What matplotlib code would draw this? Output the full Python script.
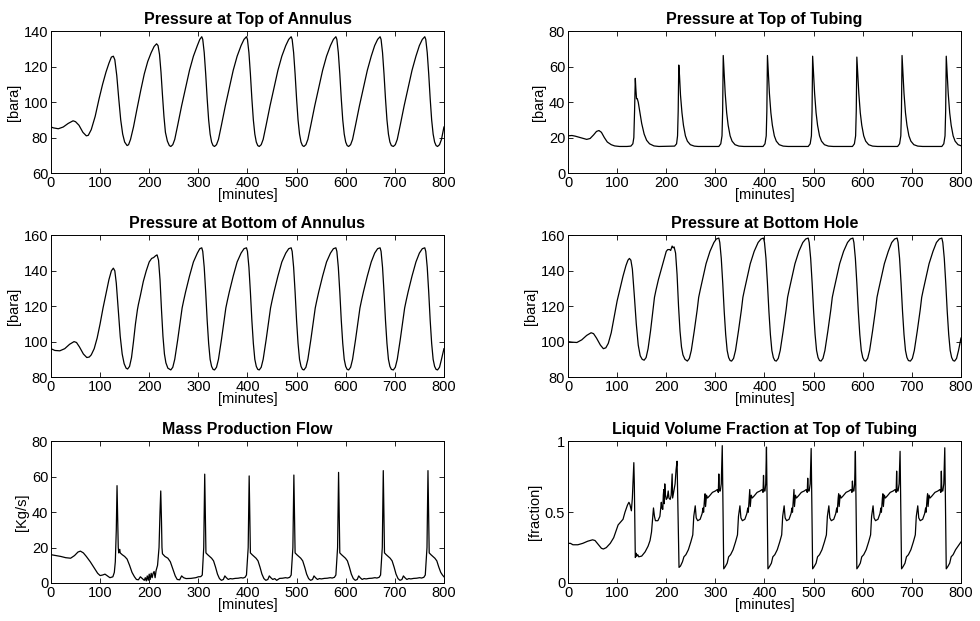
"""Gas-lift well casing-heading oscillations: six simulated signals vs time."""

import matplotlib

matplotlib.use("Agg")
import matplotlib.pyplot as plt

plt.rcParams["font.family"] = ["Liberation Sans", "DejaVu Sans"]

# --- data (minutes, value) --------------------------------------------------

annulus_top = [
    (0, 86), (5, 85.5), (15, 85), (25, 86), (35, 88), (45, 89.5), (50, 89),
    (57, 87), (65, 83), (72, 81), (76, 81.3), (82, 84.5), (90, 92), (98, 102),
    (105, 110), (112, 117), (118, 122), (123, 125.5), (127, 126), (130, 124),
    (134, 115), (138, 102), (142, 90), (146, 82), (150, 77.5), (155, 75.5),
    (158, 76), (162, 79), (168, 86), (175, 96), (183, 107), (190, 116),
    (197, 123), (204, 128), (210, 131.5), (215, 133), (218, 132), (221, 127),
    (224, 117), (227, 104), (230, 92), (233, 83), (237, 78), (241, 75.5),
    (244, 75),
    (248, 76), (252, 79), (258, 87), (266, 98), (274, 108), (282, 118),
    (290, 126), (298, 132), (303, 135.5), (307, 137), (309, 135.5), (312, 128),
    (315, 116), (318, 102), (321, 90), (324, 82), (327, 77.5), (330, 75.5),
    (333, 75),
    (337, 76), (341, 79), (347, 87), (355, 98), (363, 108), (371, 118),
    (379, 126), (387, 132), (393, 135.5), (398, 137), (400, 135.5), (403, 128),
    (406, 116), (409, 102), (412, 90), (415, 82), (418, 77.5), (421, 75.5),
    (424, 75),
    (428, 76), (432, 79), (438, 87), (446, 98), (454, 108), (462, 118),
    (470, 126), (478, 132), (484, 135.5), (489, 137), (491, 135.5), (494, 128),
    (497, 116), (500, 102), (503, 90), (506, 82), (509, 77.5), (512, 75.5),
    (515, 75),
    (519, 76), (523, 79), (529, 87), (537, 98), (545, 108), (553, 118),
    (561, 126), (569, 132), (575, 135.5), (580, 137), (582, 135.5), (585, 128),
    (588, 116), (591, 102), (594, 90), (597, 82), (600, 77.5), (603, 75.5),
    (606, 75),
    (610, 76), (614, 79), (620, 87), (628, 98), (636, 108), (644, 118),
    (652, 126), (659, 132), (665, 135.5), (670, 137), (672, 135.5), (675, 128),
    (678, 116), (681, 102), (684, 90), (687, 82), (690, 77.5), (693, 75.5),
    (697, 75),
    (701, 76), (705, 79), (711, 87), (719, 98), (727, 108), (735, 118),
    (743, 126), (750, 132), (756, 135.5), (761, 137), (763, 135.5), (766, 128),
    (769, 116), (772, 102), (775, 90), (778, 82), (781, 77.5), (784, 75.5),
    (787, 75), (791, 76), (795, 79), (800, 86),
]

tubing_top = [
    (0, 21), (8, 21.2), (15, 20.8), (25, 20), (38, 19), (45, 19.5),
    (52, 21.5), (58, 23.5), (63, 24), (68, 23), (74, 20), (80, 17.5),
    (88, 16), (95, 15.3), (105, 15), (120, 15), (128, 15.2), (132, 16.5),
    (134, 20), (135.5, 35), (137, 53.5), (138, 48), (139.5, 42), (141, 42),
    (143, 40), (146, 35), (150, 28), (155, 22), (160, 18.5), (166, 16.5),
    (175, 15.3), (185, 15),
    (217, 15.2), (221, 16.5), (223, 21), (224.3, 35), (225.5, 61), (227, 55),
    (229, 44), (232, 34), (235, 27), (239, 21), (243, 18), (249, 16),
    (257, 15.2), (265, 15),
    (307, 15), (311, 16.5), (313.5, 21), (314.8, 35), (316, 66.4), (317.5, 58),
    (320, 45), (323, 34), (326, 27), (330, 21), (334, 18), (340, 16),
    (348, 15.2), (358, 15),
    (397, 15), (401, 16.5), (403.5, 21), (404.8, 35), (406, 66.4), (407.5, 58),
    (410, 45), (413, 34), (416, 27), (420, 21), (424, 18), (430, 16),
    (438, 15.2), (448, 15),
    (489, 15), (493, 16.5), (495.5, 21), (496.8, 35), (498, 66), (499.5, 58),
    (502, 45), (505, 34), (508, 27), (512, 21), (516, 18), (522, 16),
    (530, 15.2), (540, 15),
    (579, 15), (583, 16.5), (585.5, 21), (586.8, 35), (588, 65.5), (589.5, 58),
    (592, 45), (595, 34), (598, 27), (602, 21), (606, 18), (612, 16),
    (620, 15.2), (630, 15),
    (671, 15), (675, 16.5), (677.5, 21), (678.8, 35), (680, 66.4), (681.5, 58),
    (684, 45), (687, 34), (690, 27), (694, 21), (698, 18), (704, 16),
    (712, 15.2), (722, 15),
    (761, 15), (765, 16.5), (767.5, 21), (768.8, 35), (770, 66), (771.5, 58),
    (774, 45), (777, 34), (780, 27), (784, 21), (788, 18), (794, 16),
    (800, 15.4),
]

annulus_bottom = [
    (0, 96), (8, 95), (18, 94.8), (28, 96), (38, 98.5), (47, 100), (52, 99.5),
    (58, 97), (66, 93), (73, 91), (78, 91.3), (82, 92.5), (88, 96), (94, 102),
    (100, 110), (106, 119), (112, 127), (118, 135), (123, 140), (127, 141.5),
    (130, 140), (133, 133), (137, 118), (141, 103), (145, 93), (149, 87.5),
    (153, 85), (156, 84.5), (160, 86), (164, 91), (168, 100), (172, 110),
    (176, 118), (178, 121), (182, 126), (188, 134), (194, 140), (200, 145),
    (205, 147), (209, 147.5), (213, 148.5), (216, 149), (219, 146), (222, 135),
    (225, 118), (228, 103), (231, 93), (234, 88), (238, 85), (244, 84),
    (248, 85.5), (252, 90), (258, 101), (264, 113), (267, 119), (270, 123),
    (274, 128), (282, 137), (290, 145), (298, 150), (303, 152.5), (307, 153),
    (309, 151), (312, 142), (315, 128), (318, 112), (321, 99), (324, 90),
    (327, 86), (330, 84.3), (333, 84),
    (337, 85.5), (341, 90), (347, 101), (353, 113), (356, 119), (359, 123),
    (363, 128), (371, 137), (379, 145), (387, 150), (393, 152.5), (398, 153),
    (400, 151), (403, 142), (406, 128), (409, 112), (412, 99), (415, 90),
    (418, 86), (421, 84.3), (424, 84),
    (428, 85.5), (432, 90), (438, 101), (444, 113), (447, 119), (450, 123),
    (454, 128), (462, 137), (470, 145), (478, 150), (484, 152.5), (489, 153),
    (491, 151), (494, 142), (497, 128), (500, 112), (503, 99), (506, 90),
    (509, 86), (512, 84.3), (515, 84),
    (519, 85.5), (523, 90), (529, 101), (535, 113), (538, 119), (541, 123),
    (545, 128), (553, 137), (561, 145), (569, 150), (575, 152.5), (580, 153),
    (582, 151), (585, 142), (588, 128), (591, 112), (594, 99), (597, 90),
    (600, 86), (603, 84.3), (606, 84),
    (610, 85.5), (614, 90), (620, 101), (626, 113), (629, 119), (632, 123),
    (636, 128), (644, 137), (652, 145), (659, 150), (665, 152.5), (670, 153),
    (672, 151), (675, 142), (678, 128), (681, 112), (684, 99), (687, 90),
    (690, 86), (693, 84.3), (697, 84),
    (701, 85.5), (705, 90), (711, 101), (717, 113), (720, 119), (723, 123),
    (727, 128), (735, 137), (743, 145), (750, 150), (756, 152.5), (761, 153),
    (763, 151), (766, 142), (769, 128), (772, 112), (775, 99), (778, 90),
    (781, 86), (784, 84.3), (787, 84), (791, 85.5), (795, 90), (800, 96),
]

bottom_hole = [
    (0, 100), (8, 99.7), (18, 99.5), (28, 101), (38, 103.5), (47, 105),
    (52, 104.5), (58, 102), (66, 98), (72, 96), (77, 96.5), (82, 99),
    (88, 105), (94, 114), (100, 123), (106, 130), (112, 137), (118, 143),
    (122, 146), (125, 147), (128, 146), (131, 141), (135, 126), (139, 110),
    (143, 98), (147, 92), (151, 90), (155, 89.5), (159, 91), (163, 96),
    (168, 106), (173, 118), (176, 125), (179, 129), (184, 135), (190, 141),
    (196, 147), (200, 151), (203, 152), (207, 152), (209, 151.5), (212, 154),
    (214, 153), (216, 153.5), (219, 150), (222, 138), (225, 120), (228, 106),
    (231, 97), (234, 92.5), (238, 90), (243, 89),
    (247, 90.5), (251, 95), (257, 106), (263, 118), (266, 125), (269, 129),
    (273, 134), (281, 144), (289, 151), (297, 156), (302, 158), (307, 158.5),
    (309, 156), (312, 147), (315, 133), (318, 117), (321, 104), (324, 95),
    (327, 91), (330, 89.3), (333, 89),
    (337, 90.5), (341, 95), (347, 106), (353, 118), (356, 125), (359, 129),
    (363, 134), (371, 144), (379, 151), (387, 156), (393, 158), (398, 158.5),
    (400, 156), (403, 147), (406, 133), (409, 117), (412, 104), (415, 95),
    (418, 91), (421, 89.3), (424, 89),
    (428, 90.5), (432, 95), (438, 106), (444, 118), (447, 125), (450, 129),
    (454, 134), (462, 144), (470, 151), (478, 156), (484, 158), (489, 158.5),
    (491, 156), (494, 147), (497, 133), (500, 117), (503, 104), (506, 95),
    (509, 91), (512, 89.3), (515, 89),
    (519, 90.5), (523, 95), (529, 106), (535, 118), (538, 125), (541, 129),
    (545, 134), (553, 144), (561, 151), (569, 156), (575, 158), (580, 158.5),
    (582, 156), (585, 147), (588, 133), (591, 117), (594, 104), (597, 95),
    (600, 91), (603, 89.3), (606, 89),
    (610, 90.5), (614, 95), (620, 106), (626, 118), (629, 125), (632, 129),
    (636, 134), (644, 144), (652, 151), (659, 156), (665, 158), (670, 158.5),
    (672, 156), (675, 147), (678, 133), (681, 117), (684, 104), (687, 95),
    (690, 91), (693, 89.3), (697, 89),
    (701, 90.5), (705, 95), (711, 106), (717, 118), (720, 125), (723, 129),
    (727, 134), (735, 144), (743, 151), (750, 156), (756, 158), (761, 158.5),
    (763, 156), (766, 147), (769, 133), (772, 117), (775, 104), (778, 95),
    (781, 91), (784, 89.3), (787, 89), (791, 90.5), (795, 95), (800, 102),
]

mass_flow = [
    (0, 16), (10, 15.5), (20, 15), (30, 14.3), (40, 14), (48, 15.5),
    (55, 17.5), (60, 18), (66, 17), (72, 15), (80, 12), (88, 8.5), (95, 5.5),
    (100, 4.2), (105, 4.5), (110, 5), (115, 4), (120, 3), (126, 3.5),
    (129, 6), (131, 12), (133, 30), (134.5, 55), (136, 35), (137, 20),
    (138, 17), (139, 18.5), (140, 19), (141, 17), (145, 16), (150, 15),
    (155, 13.5), (160, 10), (165, 6), (170, 3.5), (174, 2), (178, 1.8),
    (182, 3.5), (186, 2.5), (190, 1.5), (192, 3), (194, 1.2), (196, 4),
    (198, 1.5), (200, 5), (202, 2), (204, 5.5), (206, 3), (208, 5.5),
    (210, 6.5), (212, 3), (214, 7), (217, 10), (220, 20), (222, 40),
    (223.5, 52), (225, 35), (226, 20), (227, 16.5), (232, 15), (238, 14),
    (243, 12), (248, 8), (253, 4), (257, 2), (262, 1.8), (266, 4), (270, 3),
    (275, 2.5), (285, 2.6), (295, 3), (300, 3.5), (305, 3.6), (308, 4.5),
    (311, 20), (313, 61.5), (314.5, 35), (315.5, 17), (319, 16), (323, 15),
    (327, 14), (331, 12.5), (335, 9), (339, 5), (343, 2.5), (347, 1.5),
    (351, 2), (354, 4), (357, 3), (361, 2), (365, 2.5), (369, 2.3),
    (375, 2.6), (381, 2.7), (387, 3), (391, 2.8), (395, 3.2), (398, 4.5),
    (401.5, 20), (403.5, 60.5), (405, 35), (406, 17), (409.5, 16), (413.5, 15),
    (417.5, 14), (421.5, 12.5), (425.5, 9), (429.5, 5), (433.5, 2.5),
    (437.5, 1.5), (441.5, 2), (444.5, 4), (447.5, 3), (451.5, 2), (455.5, 2.5),
    (459.5, 1.5), (465.5, 2.6), (471.5, 2.7), (477.5, 3), (481.5, 2.8),
    (486, 3.2), (489, 4.5), (492.5, 20), (494.5, 61), (496, 35), (497, 17),
    (500.5, 16), (504.5, 15), (508.5, 14), (512.5, 12.5), (516.5, 9),
    (520.5, 5), (524.5, 2.5), (528.5, 1.5), (532.5, 2), (535.5, 4),
    (538.5, 3), (542.5, 2), (546.5, 2.5), (550.5, 2.3), (556.5, 2.6),
    (562.5, 2.7), (568.5, 3), (572.5, 2.8), (577, 3.2), (580, 4.5),
    (583.5, 20), (585.5, 62.5), (587, 35), (588, 17), (591.5, 16), (595.5, 15),
    (599.5, 14), (603.5, 12.5), (607.5, 9), (611.5, 5), (615.5, 2.5),
    (619.5, 1.5), (623.5, 2), (626.5, 4), (629.5, 3), (633.5, 2), (637.5, 2.5),
    (641.5, 2.3), (647.5, 2.6), (653.5, 2.7), (659.5, 3), (663.5, 2.8),
    (668, 3.2), (671, 4.5), (674.5, 20), (676.5, 63.5), (678, 35), (679, 17),
    (682.5, 16), (686.5, 15), (690.5, 14), (694.5, 12.5), (698.5, 9),
    (702.5, 5), (706.5, 2.5), (710.5, 1.5), (714.5, 2), (717.5, 4),
    (720.5, 3), (724.5, 2), (728.5, 2.5), (732.5, 2.3), (738.5, 2.6),
    (744.5, 2.7), (750.5, 3), (754.5, 2.8), (759, 3.2), (762, 4.5),
    (765.5, 20), (767.5, 63.5), (769, 35), (770, 17), (773.5, 16),
    (777.5, 15), (781.5, 14), (785.5, 12.5), (789.5, 9), (793.5, 6),
    (797, 4.5), (800, 3.5),
]

liquid_fraction = [
    (0, 0.28), (5, 0.28), (10, 0.27), (20, 0.27), (30, 0.28), (40, 0.295),
    (50, 0.305), (55, 0.3), (62, 0.27), (68, 0.245), (72, 0.24), (78, 0.25),
    (86, 0.28), (93, 0.32), (98, 0.37), (102, 0.41), (107, 0.43), (112, 0.45),
    (116, 0.5), (121, 0.55), (124, 0.57), (126, 0.555), (129, 0.51),
    (131, 0.6), (134, 0.85), (135, 0.7), (137, 0.18), (138, 0.19),
    (139, 0.21), (140, 0.19), (142, 0.2), (144, 0.185), (150, 0.19),
    (157, 0.22), (163, 0.26), (167, 0.3), (170, 0.36), (172, 0.45),
    (174, 0.53), (176, 0.47), (178, 0.44), (183, 0.44), (187, 0.47),
    (190, 0.57), (191, 0.53), (193, 0.52), (194, 0.62), (195, 0.66),
    (196, 0.56), (197, 0.7), (198, 0.63), (200, 0.59), (202, 0.6),
    (204, 0.65), (205.5, 0.6), (208, 0.59), (210, 0.62), (212, 0.77),
    (213, 0.6), (215, 0.64), (218, 0.7), (220, 0.8), (222, 0.86),
    (226, 0.11),
    (229, 0.12), (233, 0.15), (236, 0.185), (240, 0.2), (245, 0.235),
    (250, 0.29), (254, 0.34), (256, 0.47), (259, 0.545), (261, 0.46),
    (264, 0.44), (269, 0.45), (273, 0.49), (275, 0.53), (276, 0.5),
    (278, 0.6), (279, 0.63), (280, 0.54), (282, 0.62), (284, 0.6),
    (288, 0.615), (294, 0.64), (300, 0.65), (304, 0.66), (306, 0.64),
    (307, 0.77), (308, 0.65), (310, 0.65), (312, 0.7), (314, 0.97),
    (317, 0.1), (320, 0.115), (324, 0.14), (327, 0.185), (331, 0.2),
    (336, 0.235), (341, 0.29), (345, 0.34), (347, 0.47), (350, 0.545),
    (352, 0.46), (355, 0.44), (360, 0.45), (364, 0.49), (366, 0.53),
    (367, 0.5), (369, 0.6), (370, 0.66), (371, 0.54), (373, 0.62),
    (375, 0.6), (379, 0.615), (385, 0.64), (391, 0.65), (395, 0.66),
    (397, 0.64), (398, 0.76), (399, 0.65), (401, 0.65), (402.5, 0.7),
    (404, 0.96),
    (407, 0.1), (410, 0.115), (414, 0.14), (417, 0.185), (421, 0.2),
    (426, 0.235), (431, 0.29), (435, 0.34), (437, 0.47), (440, 0.545),
    (442, 0.46), (445, 0.44), (450, 0.45), (454, 0.49), (456, 0.53),
    (457, 0.5), (459, 0.6), (460, 0.66), (461, 0.54), (463, 0.62),
    (465, 0.6), (469, 0.615), (475, 0.64), (481, 0.65), (485, 0.66),
    (487, 0.64), (488, 0.74), (489, 0.65), (491, 0.65), (493, 0.7),
    (495, 0.95),
    (498, 0.1), (501, 0.115), (505, 0.14), (508, 0.185), (512, 0.2),
    (517, 0.235), (522, 0.29), (526, 0.34), (528, 0.47), (531, 0.545),
    (533, 0.46), (536, 0.44), (541, 0.45), (545, 0.49), (547, 0.53),
    (548, 0.5), (550, 0.6), (551, 0.63), (552, 0.54), (554, 0.62),
    (556, 0.6), (560, 0.615), (566, 0.64), (572, 0.65), (576, 0.66),
    (578, 0.64), (579, 0.72), (580, 0.65), (582, 0.65), (583.5, 0.7),
    (585, 0.93),
    (588, 0.1), (591, 0.115), (595, 0.14), (598, 0.185), (602, 0.2),
    (607, 0.235), (612, 0.29), (616, 0.34), (618, 0.47), (621, 0.545),
    (623, 0.46), (626, 0.44), (631, 0.45), (635, 0.49), (637, 0.53),
    (638, 0.5), (640, 0.6), (641, 0.63), (642, 0.54), (644, 0.62),
    (646, 0.6), (650, 0.615), (656, 0.64), (662, 0.65), (666, 0.66),
    (668, 0.64), (669, 0.79), (670, 0.65), (672, 0.65), (674, 0.7),
    (676, 0.93),
    (679, 0.1), (682, 0.115), (686, 0.14), (689, 0.185), (693, 0.2),
    (698, 0.235), (703, 0.29), (707, 0.34), (709, 0.47), (712, 0.545),
    (714, 0.46), (717, 0.44), (722, 0.45), (726, 0.49), (728, 0.53),
    (729, 0.5), (731, 0.6), (732, 0.63), (733, 0.54), (735, 0.62),
    (737, 0.6), (741, 0.615), (747, 0.64), (753, 0.65), (757, 0.66),
    (759, 0.64), (760, 0.79), (761, 0.65), (763, 0.65), (765, 0.7),
    (767, 0.955),
    (770, 0.1), (773, 0.115), (777, 0.14), (780, 0.185), (784, 0.2),
    (789, 0.235), (794, 0.26), (800, 0.29),
]

# title, series, y-label, y-limits, y-ticks, y-tick labels
panels = [
    ("Pressure at Top of Annulus", annulus_top, "[bara]", (60, 140),
     [60, 80, 100, 120, 140], None),
    ("Pressure at Top of Tubing", tubing_top, "[bara]", (0, 80),
     [0, 20, 40, 60, 80], None),
    ("Pressure at Bottom of Annulus", annulus_bottom, "[bara]", (80, 160),
     [80, 100, 120, 140, 160], None),
    ("Pressure at Bottom Hole", bottom_hole, "[bara]", (80, 160),
     [80, 100, 120, 140, 160], None),
    ("Mass Production Flow", mass_flow, "[Kg/s]", (0, 80),
     [0, 20, 40, 60, 80], None),
    ("Liquid Volume Fraction at Top of Tubing", liquid_fraction, "[fraction]",
     (0, 1), [0, 0.5, 1], ["0", "0.5", "1"]),
]

x_ticks = [0, 100, 200, 300, 400, 500, 600, 700, 800]

lefts = [0.052, 0.5796]
bottoms = [0.7214, 0.3929, 0.0612]
width, height = 0.401, 0.228

fig = plt.figure(figsize=(9.8, 6.21), dpi=100)

for i, (title, series, ylabel, ylim, yticks, ylabels) in enumerate(panels):
    row, col = divmod(i, 2)
    ax = fig.add_axes([lefts[col], bottoms[row], width, height])
    t = [p[0] for p in series]
    v = [p[1] for p in series]
    ax.plot(t, v, color="black", linewidth=0.9)

    ax.set_xlim(0, 800)
    ax.set_ylim(*ylim)
    ax.set_xticks(x_ticks)
    ax.set_yticks(yticks)
    if ylabels:
        ax.set_yticklabels(ylabels)

    ax.tick_params(direction="in", top=True, right=True, length=3.5,
                   width=0.6, labelsize=10.5, pad=2)
    for s in ax.spines.values():
        s.set_linewidth(0.7)

    ax.set_title(title, fontsize=11.5, fontweight="bold", pad=5)
    ax.set_xlabel("[minutes]", fontsize=10.5, labelpad=-1)
    ax.set_ylabel(ylabel, fontsize=10.5, labelpad=2)

fig.savefig("out.png", dpi=100)
